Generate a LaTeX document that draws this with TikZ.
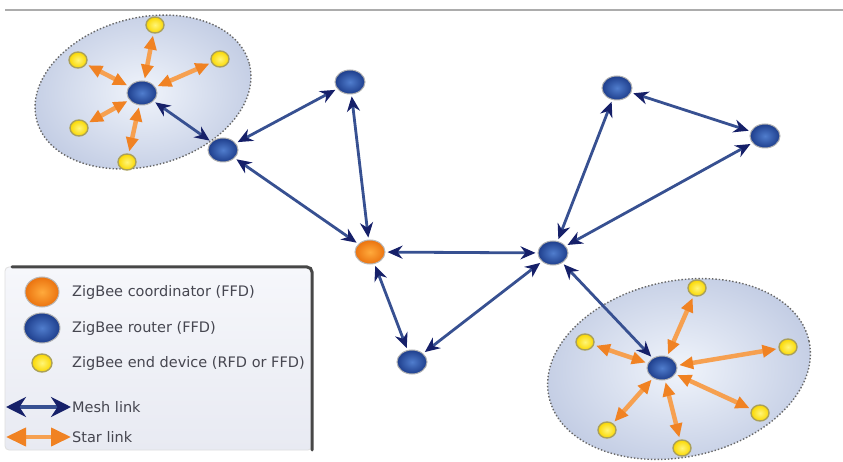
\documentclass[tikz,border=0pt]{standalone}
\usepackage{fontspec}
\setmainfont{DejaVu Sans}
\usetikzlibrary{arrows.meta,shapes.geometric}
\definecolor{meshc}{RGB}{22,32,105}
\definecolor{meshl}{RGB}{55,80,145}
\definecolor{starc}{RGB}{240,130,35}
\definecolor{starl}{RGB}{246,160,80}
\definecolor{routerin}{RGB}{80,125,205}
\definecolor{routerout}{RGB}{30,62,140}
\definecolor{coordin}{RGB}{255,170,60}
\definecolor{coordout}{RGB}{235,115,15}
\definecolor{endin}{RGB}{255,245,120}
\definecolor{endout}{RGB}{250,215,0}
\definecolor{endrim}{RGB}{170,160,90}
\definecolor{cloudin}{RGB}{240,244,251}
\definecolor{cloudout}{RGB}{195,205,228}
\definecolor{legtext}{RGB}{70,70,80}
\definecolor{legtop}{RGB}{246,247,251}
\definecolor{legbot}{RGB}{232,234,242}
\tikzset{
  router/.style={ellipse, minimum width=30pt, minimum height=24pt, inner sep=0pt,
    shading=radial, inner color=routerin, outer color=routerout, draw=gray!60, line width=1pt},
  coordnode/.style={ellipse, minimum width=30pt, minimum height=24pt, inner sep=0pt,
    shading=radial, inner color=coordin, outer color=coordout, draw=gray!55, line width=1pt},
  enddev/.style={ellipse, minimum width=18pt, minimum height=16pt, inner sep=0pt,
    shading=radial, inner color=endin, outer color=endout, draw=endrim, line width=1.4pt},
  mesh/.style={draw=meshl, line width=2.8pt,
    {Stealth[length=15pt,width=13pt,color=meshc]}-{Stealth[length=15pt,width=13pt,color=meshc]},
    shorten <=2pt, shorten >=2pt},
  star/.style={draw=starl, line width=4.5pt,
    {Triangle[length=14pt,width=12pt,color=starc]}-{Triangle[length=14pt,width=12pt,color=starc]},
    shorten <=2pt, shorten >=2pt},
  cloud/.style={shading=radial, inner color=cloudin, outer color=cloudout,
    draw=gray!30!black!70, dotted, line width=1.4pt},
  legtxt/.style={anchor=west, inner sep=0pt, text=legtext, font=\fontsize{14.5}{16}\selectfont},
}
\begin{document}
\begin{tikzpicture}[x=1pt,y=-1pt]
\useasboundingbox (0,0) rectangle (843,462);
\fill[white] (0,0) rectangle (843,462);
% top rule
\draw[gray!65, line width=1.6pt] (5,10) -- (843,10);
% clouds
\path[cloud] (143,92) ellipse [x radius=110pt, y radius=74pt, rotate=15];
\path[cloud] (679,369) ellipse [x radius=133pt, y radius=88pt, rotate=12];
% routers and coordinator
\node[router] (tl) at (142,93) {};
\node[router] (r1) at (223,150) {};
\node[router] (r2) at (350,82) {};
\node[coordnode] (c) at (370,252) {};
\node[router] (r3) at (553,253) {};
\node[router] (r4) at (412,362) {};
\node[router] (r5) at (617,88) {};
\node[router] (r6) at (765,136) {};
\node[router] (br) at (662,368) {};
% end devices top-left
\node[enddev] (a1) at (155,25) {};
\node[enddev] (a2) at (78,60) {};
\node[enddev] (a3) at (220,59) {};
\node[enddev] (a4) at (79,128) {};
\node[enddev] (a5) at (127,162) {};
% end devices bottom-right
\node[enddev] (b1) at (697,288) {};
\node[enddev] (b2) at (585,342) {};
\node[enddev] (b3) at (788,347) {};
\node[enddev] (b4) at (760,413) {};
\node[enddev] (b5) at (682,448) {};
\node[enddev] (b6) at (607,430) {};
% mesh links
\draw[mesh] (tl) -- (r1);
\draw[mesh] (r1) -- (r2);
\draw[mesh] (r1) -- (c);
\draw[mesh] (r2) -- (c);
\draw[mesh] (c) -- (r3);
\draw[mesh] (c) -- (r4);
\draw[mesh] (r4) -- (r3);
\draw[mesh] (r3) -- (r5);
\draw[mesh] (r3) -- (r6);
\draw[mesh] (r5) -- (r6);
\draw[mesh] (r3) -- (br);
% star links
\foreach \e in {a1,a2,a3,a4,a5} \draw[star] (tl) -- (\e);
\foreach \e in {b1,b2,b3,b4,b5,b6} \draw[star] (br) -- (\e);
% legend box
\shade[top color=legtop, bottom color=legbot, rounded corners=4pt]
  (5,267) rectangle (312,450);
\draw[gray!25, line width=0.8pt, rounded corners=4pt] (5,267) rectangle (312,450);
\draw[black!72, line width=3pt, rounded corners=5pt, line cap=round]
  (12,267) -- (312,267) -- (312,450);
% legend items
\node[coordnode, minimum width=34pt, minimum height=30pt] (lc) at (42,292) {};
\node[router, minimum width=36pt, minimum height=30pt] (lr) at (42,328) {};
\node[enddev, minimum width=20pt, minimum height=18pt] (le) at (42,363) {};
\node[legtxt] (tc) at (72,292) {ZigBee coordinator (FFD)};
\node[legtxt] (tr) at (72,328) {ZigBee router (FFD)};
\node[legtxt] (te) at (72,363) {ZigBee end device (RFD or FFD)};
\coordinate (m1) at (6,407);
\coordinate (m2) at (71,407);
\coordinate (s1) at (6,437);
\coordinate (s2) at (71,437);
\draw[draw=meshl, line width=4pt,
  {Stealth[length=20pt,width=20pt,color=meshc]}-{Stealth[length=20pt,width=20pt,color=meshc]}] (m1) -- (m2);
\draw[draw=starl, line width=4pt,
  {Triangle[length=20pt,width=18pt,color=starc]}-{Triangle[length=20pt,width=18pt,color=starc]}] (s1) -- (s2);
\node[legtxt] (tm) at (72,407) {Mesh link};
\node[legtxt] (ts) at (72,437) {Star link};
\end{tikzpicture}
\end{document}
